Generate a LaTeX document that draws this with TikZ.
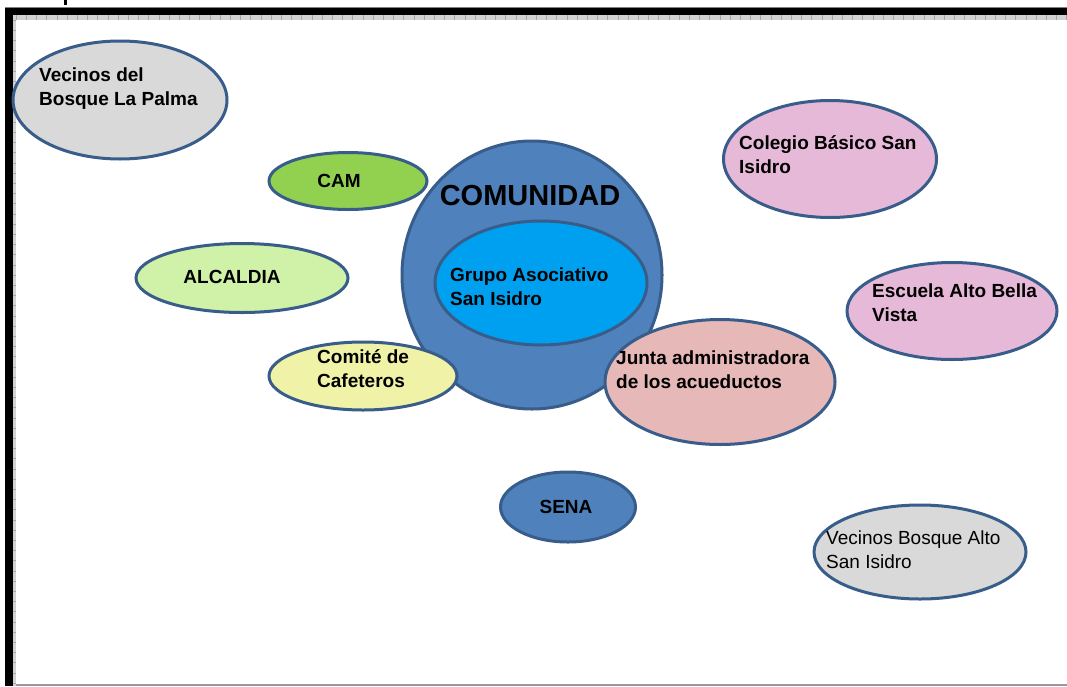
\documentclass[tikz,border=0pt]{standalone}
\usepackage{fontspec}
\setmainfont{Liberation Sans}
\usetikzlibrary{shapes.geometric}
\definecolor{edgeblue}{RGB}{56,93,138}
\definecolor{grayfill}{RGB}{217,217,217}
\definecolor{camgreen}{RGB}{146,208,80}
\definecolor{alcgreen}{RGB}{207,241,168}
\definecolor{cafyellow}{RGB}{240,242,168}
\definecolor{comblue}{RGB}{79,129,189}
\definecolor{grupoblue}{RGB}{0,160,240}
\definecolor{juntapink}{RGB}{230,184,183}
\definecolor{schoolpink}{RGB}{230,185,216}
\definecolor{rulergray}{RGB}{210,210,210}
\tikzset{
  bubble/.style={ellipse, draw=edgeblue, line width=3pt, inner sep=0pt},
  lbl/.style={inner sep=0pt, align=left, anchor=west, font=\fontsize{19}{24}\selectfont\bfseries},
  lblplain/.style={inner sep=0pt, align=left, anchor=west, font=\fontsize{19}{24}\selectfont},
  lblc/.style={inner sep=0pt, font=\fontsize{19}{22}\selectfont\bfseries},
}
\begin{document}
\begin{tikzpicture}[x=1pt,y=-1pt]
\useasboundingbox (0,0) rectangle (1067,686);
\fill[white] (0,0) rectangle (1067,686);
% frame
\fill[black] (63.5,0) rectangle (66.5,5);
\draw[gray, line width=0.8pt] (5,7.5) -- (1067,7.5);
\fill[black] (5,8) rectangle (1067,15);
\fill[black] (5,8) rectangle (13,686);
\fill[rulergray] (13,15) rectangle (1067,20);
\fill[rulergray] (13,15) rectangle (16,686);
\foreach \i in {0,...,104} {\draw[gray!70, line width=0.5pt] (16+\i*10.2,15) -- (16+\i*10.2,20);}
\foreach \j in {0,...,65} {\draw[gray!70, line width=0.5pt] (13,20+\j*10.2) -- (16,20+\j*10.2);}
\draw[gray!80, line width=1.2pt] (16,685) -- (1067,685);
% bubbles
\node[bubble, fill=grayfill, minimum width=214pt, minimum height=118pt] (palma) at (120,100) {};
\node[bubble, fill=comblue, minimum width=260pt, minimum height=268pt] (comunidad) at (532,275) {};
\node[bubble, fill=grupoblue, minimum width=212pt, minimum height=124pt] (grupo) at (541,283) {};
\node[bubble, fill=camgreen, minimum width=158pt, minimum height=57pt] (cam) at (348,181) {};
\node[bubble, fill=alcgreen, minimum width=212pt, minimum height=69pt] (alcaldia) at (242,278) {};
\node[bubble, fill=cafyellow, minimum width=188pt, minimum height=68pt] (cafeteros) at (363,376) {};
\node[bubble, fill=juntapink, minimum width=230pt, minimum height=125pt] (junta) at (720,382) {};
\node[bubble, fill=schoolpink, minimum width=213pt, minimum height=117pt] (colegio) at (830,159) {};
\node[bubble, fill=schoolpink, minimum width=210pt, minimum height=97pt] (escuela) at (952,311) {};
\node[bubble, fill=comblue, minimum width=135pt, minimum height=70pt] (sena) at (568,507) {};
\node[bubble, fill=grayfill, minimum width=212pt, minimum height=94pt] (altoisidro) at (920,552) {};
% labels
\node[lbl] (tpalma) at (39,89) {Vecinos del\\Bosque La Palma};
\node[inner sep=0pt, font=\fontsize{29}{31}\selectfont\bfseries] (tcom) at (530,196) {COMUNIDAD};
\node[lbl] (tgrupo) at (450,287) {Grupo Asociativo\\San Isidro};
\node[lblc] (tcam) at (339,181) {CAM};
\node[lblc] (talc) at (232,277) {ALCALDIA};
\node[lbl] (tcaf) at (317,369) {Comité de\\Cafeteros};
\node[lbl] (tjunta) at (616,370) {Junta administradora\\de los acueductos};
\node[lbl] (tcol) at (739,155) {Colegio Básico San\\Isidro};
\node[lbl] (tesc) at (872,303) {Escuela Alto Bella\\Vista};
\node[lblc] (tsena) at (566,507) {SENA};
\node[lblplain] (talto) at (826,550) {Vecinos Bosque Alto\\San Isidro};
\end{tikzpicture}
\end{document}
